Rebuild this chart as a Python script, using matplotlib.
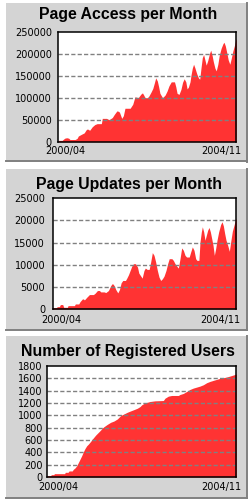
import matplotlib
matplotlib.use("Agg")
import matplotlib.pyplot as plt
from matplotlib.patches import Rectangle
from matplotlib.lines import Line2D

W, H = 248, 503

# ---------------- data (month offset from 2000/04, value) ----------------
access_month = [0, 1.2, 1.5, 2.0, 2.6, 3.2, 3.6, 5.2, 5.8, 6.2, 7.2, 8.0, 8.6, 9.0, 9.7, 10.5, 11.3, 12.0, 13.3,
                13.6, 14.9, 15.7, 16.7, 17.3, 18.1, 18.6, 18.9, 19.3, 19.6, 20.1, 20.6, 22.2, 23.0, 23.4, 23.7,
                24.7, 25.5, 26.0, 26.4, 26.8, 27.6, 28.0, 28.6, 29.2, 29.7, 30.1, 30.6, 31.0, 31.4, 32.2, 33.0,
                33.6, 34.2, 34.9, 35.9, 36.3, 36.7, 37.3, 37.9, 38.4, 38.9, 39.4, 39.8, 40.2, 40.7, 41.0, 41.4,
                41.8, 42.2, 42.8, 43.3, 43.7, 44.1, 44.5, 44.9, 45.3, 45.7, 46.2, 46.7, 47.1, 47.5, 47.9, 48.4,
                48.8, 49.3, 49.7, 50.3, 50.9, 51.2, 51.6, 52.1, 52.5, 53.0, 53.4, 53.9, 54.4, 54.8, 55.0]
access_value = [3000, 3000, 5000, 8000, 9000, 8000, 5000, 5000, 7500, 13000, 17000, 20000, 27000, 29000, 26000,
                34000, 39000, 41000, 41000, 53000, 53000, 50000, 55000, 62000, 70000, 69000, 67000, 59000, 53000,
                59000, 76000, 76000, 85000, 95000, 102000, 100000, 108000, 111000, 106000, 100000, 100000, 104000,
                112000, 121000, 134000, 145000, 138000, 125000, 110000, 100000, 106000, 115000, 127000, 136000,
                136000, 125000, 110000, 107500, 119000, 135000, 143000, 136000, 120000, 124000, 136000, 151000,
                167000, 176000, 168000, 154000, 145000, 142000, 168000, 191000, 198000, 186000, 174000, 185000,
                200000, 208000, 197000, 182000, 167000, 161000, 176000, 195000, 212000, 223000, 226000, 218000,
                201000, 186000, 176000, 188000, 205000, 218000, 231000, 234000]

updates_month = [0, 1.2, 1.3, 2.0, 2.3, 3.0, 3.3, 4.4, 4.6, 6.5, 6.8, 7.8, 8.2, 8.9, 9.2, 9.5, 10.2, 11.0, 12.2,
                 12.7, 13.4, 14.0, 14.4, 15.4, 15.9, 16.7, 17.4, 17.9, 18.4, 18.9, 19.5, 20.0, 20.5, 21.0, 21.8,
                 22.2, 22.7, 23.2, 23.7, 24.2, 24.8, 25.4, 25.8, 26.4, 26.8, 27.35, 27.75, 28.3, 28.9, 29.35,
                 29.85, 30.35, 30.85, 31.35, 31.85, 32.35, 32.85, 33.35, 33.94, 34.44, 34.9, 35.7, 36.14, 36.64,
                 37.14, 37.64, 38.14, 38.64, 39.14, 39.64, 40.1, 40.9, 41.34, 41.83, 42.33, 42.83, 43.2, 43.8,
                 44.13, 44.53, 44.83, 45.23, 45.63, 46.03, 46.43, 46.83, 47.23, 47.63, 48.03, 48.42, 48.82,
                 49.22, 49.72, 50.32, 50.72, 51.12, 51.52, 51.92, 52.42, 52.92, 53.32, 53.82, 54.32, 54.72, 55.0]
updates_value = [300, 300, 530, 530, 1000, 1000, 380, 380, 760, 760, 1140, 1140, 1670, 2270, 2270, 2050, 2650,
                 3260, 3260, 3560, 4170, 4170, 3860, 3860, 3710, 4170, 5300, 5760, 5300, 4390, 3640, 4390, 5910,
                 6440, 6440, 6970, 7730, 8710, 9700, 10230, 10230, 9470, 8110, 7420, 6970, 8710, 9240, 8940,
                 8940, 10600, 12730, 12120, 10600, 8710, 7200, 6440, 6820, 7420, 8710, 10230, 11360, 11360,
                 10980, 10230, 9700, 9240, 11360, 13790, 13260, 12120, 11740, 11740, 12880, 14020, 13260, 11360,
                 10980, 10980, 15150, 17420, 18560, 17420, 15530, 16670, 17800, 18410, 17420, 15910, 14390,
                 12120, 13640, 15530, 17420, 19090, 19700, 18790, 17050, 15530, 14390, 13030, 15150, 17580,
                 18940, 20080, 20450]

users_month = [0, 1.15, 1.34, 2.1, 2.2, 5.2, 5.4, 6.2, 6.5, 7.4, 7.73, 8.21, 8.69, 9.18, 9.66, 10.14, 10.63,
               11.11, 11.6, 12.08, 12.75, 13.24, 13.72, 14.21, 14.69, 15.17, 15.66, 16.14, 16.62, 17.59, 18.56,
               19.52, 20.49, 21.46, 22.42, 23.39, 24.36, 25.33, 26.29, 27.07, 27.55, 28.52, 29.97, 31.42, 33.84,
               34.32, 35.29, 36.25, 38.19, 38.67, 39.64, 40.6, 41.57, 42.54, 43.51, 44.47, 45.44, 46.41, 47.37,
               48.34, 49.31, 50.27, 51.24, 52.21, 53.18, 54.14, 55.0]
users_value = [22, 22, 38, 38, 54, 54, 76, 76, 98, 98, 125, 147, 180, 234, 288, 343, 408, 462, 506, 533, 577,
               615, 647, 680, 707, 734, 762, 794, 816, 854, 887, 908, 941, 996, 1023, 1050, 1072, 1093, 1115,
               1142, 1170, 1202, 1224, 1235, 1240, 1278, 1311, 1322, 1322, 1338, 1355, 1387, 1420, 1442, 1458,
               1474, 1496, 1529, 1550, 1567, 1583, 1600, 1610, 1621, 1637, 1654, 1670]

titles = ["Page Access per Month", "Page Updates per Month", "Number of Registered Users"]
x_labels = ["2000/04", "2004/11"]
access_ticks = [0, 50000, 100000, 150000, 200000, 250000]
updates_ticks = [0, 5000, 10000, 15000, 20000, 25000]
users_ticks = [0, 200, 400, 600, 800, 1000, 1200, 1400, 1600, 1800]
n_months = 55

# ---------------- layout (pixels, y from top) ----------------
panels = [
    dict(box=(6, 3, 247, 162), ax=(58.3, 31.7, 236.3, 141.7), title_xy=(128.5, 14.5),
         xl=(45, 151), xr=(241, 151), pad=4.6,
         x=access_month, y=access_value, ticks=access_ticks),
    dict(box=(6, 169, 247, 330), ax=(52.7, 198.3, 236.3, 309), title_xy=(129, 184.5),
         xl=(41.7, 320.5), xr=(240.7, 320.5), pad=5.4,
         x=updates_month, y=updates_value, ticks=updates_ticks),
    dict(box=(6, 336, 247, 498), ax=(46.7, 366, 236.3, 477), title_xy=(127.5, 351.5),
         xl=(38.3, 487), xr=(241.7, 487), pad=2.8,
         x=users_month, y=users_value, ticks=users_ticks),
]

BG = "#d4d4d4"
SHADOW = "#808080"
RED = "#ff3333"
GRID = "#808080"

fig = plt.figure(figsize=(W / 100, H / 100), dpi=100)
fig.patch.set_facecolor("white")


def fx(px):
    return px / W


def fy(py):
    return 1 - py / H


for i, p in enumerate(panels):
    x0, y0, x1, y1 = p["box"]
    fig.patches.append(Rectangle((fx(x0), fy(y1)), fx(x1 - x0), (y1 - y0) / H,
                                 transform=fig.transFigure, facecolor=BG, edgecolor="none", zorder=-3))
    # shadow on right and bottom
    fig.lines.append(Line2D([fx(x0), fx(x1)], [fy(y1 - 0.5), fy(y1 - 0.5)], transform=fig.transFigure,
                            color=SHADOW, linewidth=1.4, zorder=-2))
    fig.lines.append(Line2D([fx(x1 - 0.5), fx(x1 - 0.5)], [fy(y0), fy(y1)], transform=fig.transFigure,
                            color=SHADOW, linewidth=1.4, zorder=-2))

    ax_l, ax_t, ax_r, ax_b = p["ax"]
    ax = fig.add_axes([fx(ax_l), fy(ax_b), fx(ax_r - ax_l), (ax_b - ax_t) / H])
    ax.set_zorder(1)
    ax.set_facecolor("white")
    ax.fill_between(p["x"], p["y"], 0, color=RED, linewidth=0, zorder=1)
    ticks = p["ticks"]
    for t in ticks[1:-1]:
        ax.axhline(t, color=GRID, linewidth=1.0, linestyle=(0, (3.0, 1.6)), zorder=2)
    ax.set_xlim(0, n_months)
    ax.set_ylim(ticks[0], ticks[-1])
    ax.set_yticks(ticks)
    ax.set_yticklabels([str(t) for t in ticks], fontsize=7, family="DejaVu Sans", color="black")
    ax.tick_params(axis="y", length=0, pad=p["pad"])
    ax.set_xticks([])
    for s in ax.spines.values():
        s.set_linewidth(1.1)
        s.set_color("black")
        s.set_zorder(3)

    fig.text(fx(p["title_xy"][0]), fy(p["title_xy"][1]), titles[i], ha="center", va="center",
             fontsize=11.4, fontweight="bold", family="Liberation Sans", color="black", zorder=5)
    fig.text(fx(p["xl"][0]), fy(p["xl"][1]), x_labels[0], ha="left", va="center",
             fontsize=7, family="DejaVu Sans", color="black", zorder=5)
    fig.text(fx(p["xr"][0]), fy(p["xr"][1]), x_labels[1], ha="right", va="center",
             fontsize=7, family="DejaVu Sans", color="black", zorder=5)

fig.savefig("out.png", dpi=100, facecolor="white")
